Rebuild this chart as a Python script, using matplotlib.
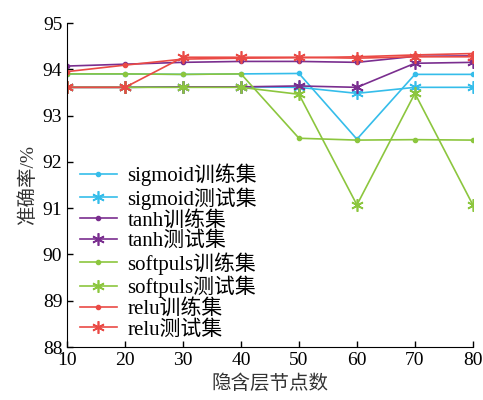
import numpy as np
import matplotlib
matplotlib.use('Agg')
import matplotlib.pyplot as plt

plt.rcParams['font.family'] = ['Liberation Serif', 'Noto Sans CJK SC']
plt.rcParams['mathtext.fontset'] = 'stix'

# hidden layer nodes
nodes = [10, 20, 30, 40, 50, 60, 70, 80]

sigmoid_train = [93.90, 93.90, 93.89, 93.90, 93.91, 92.49, 93.89, 93.89]
sigmoid_test = [93.61, 93.61, 93.62, 93.62, 93.61, 93.48, 93.61, 93.61]
tanh_train = [94.07, 94.11, 94.15, 94.17, 94.17, 94.15, 94.28, 94.29]
tanh_test = [93.61, 93.61, 93.62, 93.62, 93.64, 93.61, 94.13, 94.15]
softpuls_train = [93.90, 93.90, 93.89, 93.90, 92.51, 92.47, 92.48, 92.47]
softpuls_test = [93.61, 93.61, 93.61, 93.61, 93.46, 91.07, 93.48, 91.07]
relu_train = [93.95, 94.09, 94.22, 94.24, 94.25, 94.27, 94.31, 94.34]
relu_test = [93.61, 93.61, 94.26, 94.26, 94.26, 94.24, 94.27, 94.27]

names = ['sigmoid', 'tanh', 'softpuls', 'relu']
colors = ['#35bdea', '#7a2e8f', '#8cc63e', '#ea4a45']
train_sets = [sigmoid_train, tanh_train, softpuls_train, relu_train]
test_sets = [sigmoid_test, tanh_test, softpuls_test, relu_test]

fig = plt.figure(figsize=(4.83, 4.0), dpi=100)
ax = fig.add_axes([0.139, 0.1325, 0.840, 0.81])

for name, c, tr, te in zip(names, colors, train_sets, test_sets):
    ax.plot(nodes, tr, color=c, marker='.', markersize=6, linewidth=1.2,
            label=name + '训练集')
    # asterisk-like star marker
    ax.plot(nodes, te, color=c, marker=(6, 2, 0), markersize=9,
            markeredgewidth=1.2, linewidth=1.2, label=name + '测试集')

ax.set_xlim(10, 80)
ax.set_ylim(88, 95)
ax.set_xticks(nodes)
ax.set_yticks(range(88, 96))
ax.tick_params(direction='in', labelsize=14, length=4, width=1)
ax.spines['top'].set_visible(False)
ax.spines['right'].set_visible(False)

ax.set_xlabel('隐含层节点数', fontsize=14, color='#333333')
ax.set_ylabel('准确率/%', fontsize=14, color='#333333')

ax.legend(loc='upper left', bbox_to_anchor=(0.0, 0.605), frameon=False,
          fontsize=15, handlelength=1.8, handletextpad=0.5,
          labelspacing=0.05, borderaxespad=0.2)

fig.savefig('out.png', dpi=100)
